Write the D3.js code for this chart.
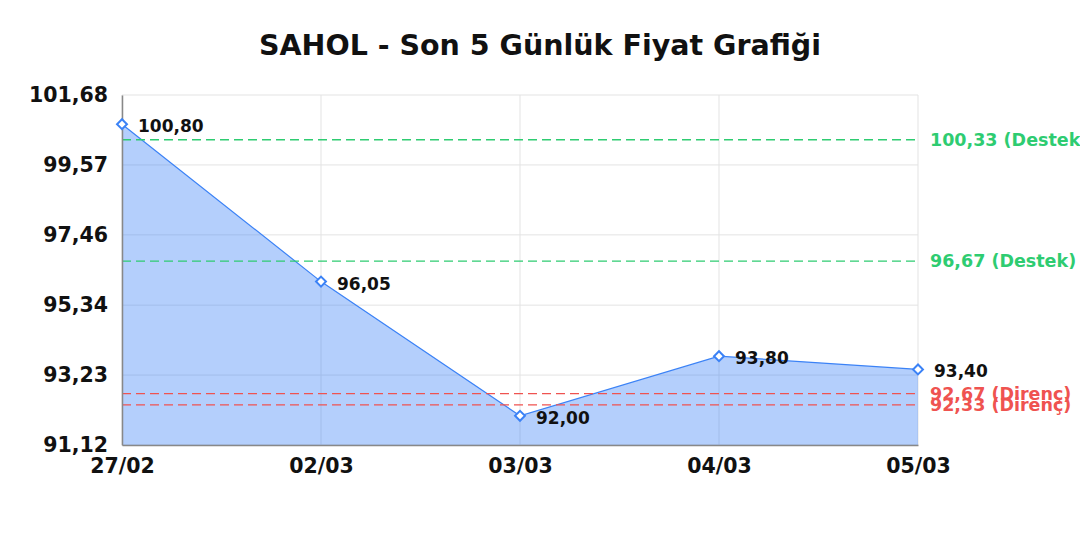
<!DOCTYPE html>
<html>
<head>
<meta charset="utf-8">
<script src="https://cdn.jsdelivr.net/npm/d3@7"></script>
<style>
  body { margin: 0; background: #fff; }
  svg, svg text { font-family: "DejaVu Sans", sans-serif; }
</style>
</head>
<body>
<div id="chart"></div>
<script>
const dates = ['27/02', '02/03', '03/03', '04/03', '05/03'];
const prices = [100.80, 96.05, 92.00, 93.80, 93.40];
const yTicks = [91.12, 93.23, 95.34, 97.46, 99.57, 101.68];
const supportLevels = [100.33, 96.67];
const resistanceLevels = [92.67, 92.33];

const width = 1080, height = 540;
const margin = { top: 95, right: 162, bottom: 95, left: 122 };
const innerW = width - margin.left - margin.right;
const innerH = height - margin.top - margin.bottom;

const fmt = v => v.toFixed(2).replace('.', ',');

const svg = d3.select('#chart').append('svg')
    .attr('width', width)
    .attr('height', height);

svg.append('text')
    .attr('x', width / 2)
    .attr('y', 55)
    .attr('text-anchor', 'middle')
    .style('font-size', '28.5px')
    .style('font-weight', 'bold')
    .attr('fill', '#111')
    .text('SAHOL - Son 5 Günlük Fiyat Grafiği');

const g = svg.append('g')
    .attr('transform', `translate(${margin.left},${margin.top})`);

const x = d3.scalePoint().domain(dates).range([0, innerW]);
const y = d3.scaleLinear().domain([yTicks[0], yTicks[yTicks.length - 1]]).range([innerH, 0]);

// grid
g.selectAll('.hgrid').data(yTicks).enter().append('line')
    .attr('x1', 0).attr('x2', innerW)
    .attr('y1', d => y(d)).attr('y2', d => y(d))
    .attr('stroke', '#e3e3e3').attr('stroke-width', 1);

g.selectAll('.vgrid').data(dates).enter().append('line')
    .attr('x1', d => x(d)).attr('x2', d => x(d))
    .attr('y1', 0).attr('y2', innerH)
    .attr('stroke', '#e3e3e3').attr('stroke-width', 1);

// area + line
const data = dates.map((d, i) => ({ date: d, price: prices[i] }));

g.append('path')
    .datum(data)
    .attr('fill', 'rgba(59,130,246,0.38)')
    .attr('d', d3.area().x(d => x(d.date)).y0(innerH).y1(d => y(d.price)));

g.append('path')
    .datum(data)
    .attr('fill', 'none')
    .attr('stroke', '#3b82f6')
    .attr('stroke-width', 1.2)
    .attr('d', d3.line().x(d => x(d.date)).y(d => y(d.price)));

// support / resistance
const levels = supportLevels.map(v => ({ v, label: 'Destek', color: '#2ecc71' }))
    .concat(resistanceLevels.map(v => ({ v, label: 'Direnç', color: '#ef5350' })));

g.selectAll('.level').data(levels).enter().append('line')
    .attr('x1', 0).attr('x2', innerW)
    .attr('y1', d => y(d.v)).attr('y2', d => y(d.v))
    .attr('stroke', d => d.color)
    .attr('stroke-width', 1.3)
    .attr('stroke-dasharray', '9,5');

g.selectAll('.level-label').data(levels).enter().append('text')
    .attr('x', innerW + 12)
    .attr('y', d => y(d.v))
    .attr('dy', '0.35em')
    .attr('fill', d => d.color)
    .style('font-size', '17.5px')
    .style('font-weight', 'bold')
    .text(d => `${fmt(d.v)} (${d.label})`);

// axes
const yAxis = g.append('g')
    .call(d3.axisLeft(y).tickValues(yTicks).tickFormat(fmt).tickSize(0).tickPadding(14));
yAxis.attr('font-family', null);
yAxis.select('.domain').attr('stroke', '#888').attr('stroke-width', 1.5);
yAxis.selectAll('text')
    .style('font-size', '20.5px')
    .style('font-weight', 'bold')
    .attr('fill', '#111');

const xAxis = g.append('g')
    .attr('transform', `translate(0,${innerH})`)
    .call(d3.axisBottom(x).tickSize(0).tickPadding(13));
xAxis.attr('font-family', null);
xAxis.select('.domain').attr('stroke', '#888').attr('stroke-width', 1.5);
xAxis.selectAll('text')
    .style('font-size', '20.5px')
    .style('font-weight', 'bold')
    .attr('fill', '#111');

// markers
g.selectAll('.marker').data(data).enter().append('rect')
    .attr('x', -3.5).attr('y', -3.5)
    .attr('width', 7).attr('height', 7)
    .attr('transform', d => `translate(${x(d.date)},${y(d.price)}) rotate(45)`)
    .attr('fill', '#fff')
    .attr('stroke', '#3b82f6')
    .attr('stroke-width', 2);

g.selectAll('.point-label').data(data).enter().append('text')
    .attr('x', d => x(d.date) + 16)
    .attr('y', d => y(d.price) + 2)
    .attr('dy', '0.35em')
    .style('font-size', '17px')
    .style('font-weight', 'bold')
    .attr('fill', '#111')
    .text(d => fmt(d.price));
</script>
</body>
</html>
